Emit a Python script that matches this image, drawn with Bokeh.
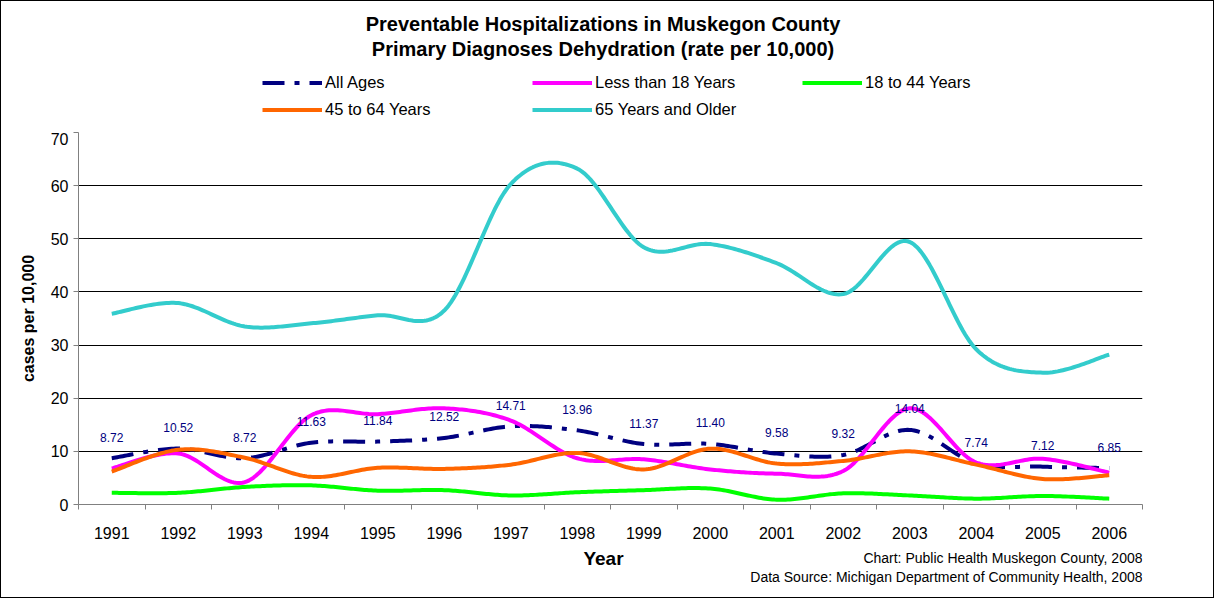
import numpy as np
from bokeh.plotting import figure
from bokeh.layouts import column
from bokeh.models import (ColumnDataSource, Legend, LegendItem, LabelSet,
                          FixedTicker, Range1d)
from bokeh.core.properties import value
from bokeh.embed import file_html
from bokeh.resources import INLINE

# ---- data ----
years = list(range(1991, 2007))
all_ages = [8.72, 10.52, 8.72, 11.63, 11.84, 12.52, 14.71, 13.96, 11.37, 11.40,
            9.58, 9.32, 14.04, 7.74, 7.12, 6.85]
under_18 = [6.8, 9.6, 4.2, 16.8, 17.0, 18.1, 15.8, 8.7, 8.5, 6.6,
            5.8, 6.3, 18.1, 7.9, 8.6, 6.0]
age_18_44 = [2.2, 2.2, 3.3, 3.6, 2.6, 2.7, 1.7, 2.3, 2.7, 3.0,
             0.9, 2.1, 1.7, 1.1, 1.6, 1.1]
age_45_64 = [6.2, 10.3, 8.8, 5.2, 6.9, 6.7, 7.5, 9.7, 6.6, 10.5,
             7.7, 8.2, 10.0, 7.5, 4.8, 5.5]
age_65_up = [35.9, 37.9, 33.5, 34.1, 35.6, 36.5, 60.3, 63.2, 48.4, 49.0,
             45.4, 39.6, 49.4, 29.2, 24.8, 28.2]
series_names = ["All Ages", "Less than 18 Years", "18 to 44 Years",
                "45 to 64 Years", "65 Years and Older"]
y_ticks = [0, 10, 20, 30, 40, 50, 60, 70]
title_lines = ["Preventable Hospitalizations in Muskegon County",
               "Primary Diagnoses Dehydration (rate per 10,000)"]
notes = ["Chart: Public Health Muskegon County, 2008",
         "Data Source: Michigan Department of Community Health, 2008"]

FONT = "Liberation Sans"
W = 1212
H_HEAD, H_MAIN, H_FOOT = 131, 412, 53
FRAME_L, FRAME_R = 86, 1150  # page x of the plot frame (shared by all rows)

colors = ["#000080", "#FF00FF", "#00FF00", "#FF6600", "#33CCCC"]
dashes = ["22 10 5 10", "solid", "solid", "solid", "solid"]


def smooth(xs, ys, n=30):
    """Excel-like smoothed line through the points (cubic Bezier segments)."""
    x = np.asarray(xs, float)
    y = np.asarray(ys, float)
    px = np.concatenate([[x[0]], x, [x[-1]]])
    py = np.concatenate([[y[0]], y, [y[-1]]])
    ox, oy = [], []
    m = len(x) - 1
    for i in range(m):
        p0 = np.array([px[i], py[i]])
        p1 = np.array([px[i + 1], py[i + 1]])
        p2 = np.array([px[i + 2], py[i + 2]])
        p3 = np.array([px[i + 3], py[i + 3]])
        c1 = p1 + (p2 - p0) / 6.0
        c2 = p2 - (p3 - p1) / 6.0
        t = np.linspace(0, 1, n, endpoint=(i == m - 1))
        b = ((1 - t) ** 3)[:, None] * p1 + (3 * (1 - t) ** 2 * t)[:, None] * c1 \
            + (3 * (1 - t) * t ** 2)[:, None] * c2 + (t ** 3)[:, None] * p2
        ox.extend(b[:, 0])
        oy.extend(b[:, 1])
    return ox, oy


def blank(height):
    f = figure(width=W, height=height, output_backend="svg", toolbar_location=None,
               x_range=Range1d(FRAME_L, FRAME_R), y_range=Range1d(0, height),
               x_axis_location=None, y_axis_location=None,
               min_border=0, min_border_left=0, min_border_right=0,
               min_border_top=0, min_border_bottom=0)
    f.outline_line_color = None
    f.grid.visible = False
    f.background_fill_color = "white"
    f.border_fill_color = "white"
    return f


# ---------------- header: titles + legend ----------------
head = blank(H_HEAD)
head.text(x=[610.5, 610.5], y=[109, 84], text=title_lines,
          text_align="center", text_baseline="middle",
          text_font=value(FONT), text_font_size="20px", text_font_style="bold",
          text_color="black")

proxies = []
for col, dash in zip(colors, dashes):
    proxies.append(head.line(x=[0, 10], y=[-20, -10], line_color=col, line_width=4,
                             line_dash=dash, line_cap="butt"))
items = [LegendItem(label=n, renderers=[r]) for n, r in zip(series_names, proxies)]
legend = Legend(items=items, ncols=3, orientation="horizontal", location=(184, 10),
                glyph_width=60, glyph_height=25, label_standoff=3, label_width=205,
                label_height=25, spacing=2, padding=0, margin=0,
                border_line_color=None, background_fill_alpha=0,
                label_text_font=FONT, label_text_font_size="16.5px",
                label_text_color="black")
head.add_layout(legend, "center")

# ---------------- main chart ----------------
p = figure(width=W, height=H_MAIN, output_backend="svg", toolbar_location=None,
           x_range=Range1d(1990.5, 2006.5), y_range=Range1d(0, 70),
           min_border_left=77, min_border_right=71, min_border_top=0,
           min_border_bottom=40)
p.outline_line_color = None
p.background_fill_color = "white"
p.border_fill_color = "white"

p.xaxis.ticker = FixedTicker(ticks=years, minor_ticks=[yv - 0.5 for yv in years] + [2006.5])
p.xaxis.major_tick_line_color = None
p.xaxis.major_tick_out = 0
p.xaxis.major_tick_in = 0
p.xaxis.minor_tick_out = 5
p.xaxis.minor_tick_in = 0
p.xaxis.minor_tick_line_color = "#808080"
p.xaxis.axis_line_color = "#808080"
p.xaxis.major_label_standoff = 17
p.xaxis.major_label_text_font = FONT
p.xaxis.major_label_text_font_size = "16px"
p.xaxis.major_label_text_color = "black"

p.yaxis.ticker = FixedTicker(ticks=y_ticks)
p.yaxis.major_tick_out = 5
p.yaxis.major_tick_in = 0
p.yaxis.minor_tick_line_color = None
p.yaxis.major_tick_line_color = "#808080"
p.yaxis.axis_line_color = "#808080"
p.yaxis.major_label_standoff = 5
p.yaxis.major_label_text_font = FONT
p.yaxis.major_label_text_font_size = "16px"
p.yaxis.major_label_text_color = "black"
p.yaxis.axis_label = "cases per 10,000"
p.yaxis.axis_label_text_font = FONT
p.yaxis.axis_label_text_font_size = "16px"
p.yaxis.axis_label_text_font_style = "bold"
p.yaxis.axis_label_standoff = 11
p.yaxis.axis_label_text_color = "black"

p.xgrid.grid_line_color = None
p.ygrid.ticker = FixedTicker(ticks=y_ticks)
p.ygrid.grid_line_color = "#000000"
p.ygrid.grid_line_width = 1

data = [all_ages, under_18, age_18_44, age_45_64, age_65_up]
for vals, col, dash in zip(data, colors, dashes):
    sx, sy = smooth(years, vals)
    p.line(sx, sy, line_color=col, line_width=4, line_dash=dash,
           line_cap="butt", line_join="round")

lab_src = ColumnDataSource(dict(x=years, y=all_ages, t=["%.2f" % v for v in all_ages]))
p.add_layout(LabelSet(x="x", y="y", text="t", source=lab_src, y_offset=21,
                      text_align="center", text_baseline="middle",
                      text_font=value(FONT), text_font_size="12px",
                      text_color="#000080"))

# ---------------- footer: axis title + source notes ----------------
foot = blank(H_FOOT)
foot.text(x=[611], y=[39], text=["Year"], text_align="center", text_baseline="middle",
          text_font=value(FONT), text_font_size="19px", text_font_style="bold",
          text_color="black")
foot.text(x=[FRAME_R, FRAME_R], y=[40, 21], text=notes, text_align="right",
          text_baseline="middle", text_font=value(FONT), text_font_size="14px",
          text_color="black")

layout = column(head, p, foot, spacing=0, styles={"border": "1px solid #000000"})

open("out.html", "w").write(file_html(layout, INLINE))
